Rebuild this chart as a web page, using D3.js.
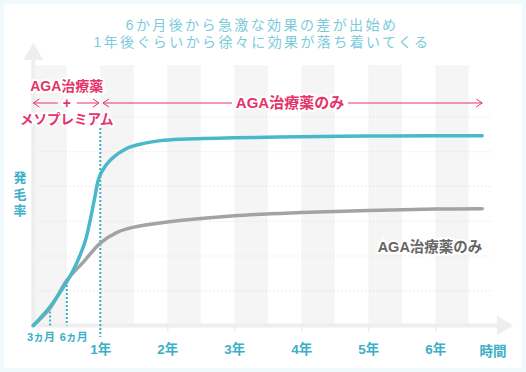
<!DOCTYPE html>
<html>
<head>
<meta charset="utf-8">
<script src="https://cdn.jsdelivr.net/npm/d3@7"></script>
<style>
  html, body { margin: 0; padding: 0; background: #f0fafc; }
  svg { display: block; font-family: "Liberation Sans", "Noto Sans CJK JP", sans-serif; }
</style>
</head>
<body>
<div id="chart"></div>
<script>
// data (x in years, y in grid units)
const titleLines = ["6か月後から急激な効果の差が出始め", "1年後ぐらいから徐々に効果が落ち着いてくる"];
const years = [1, 2, 3, 4, 5, 6];
const yearLabels = ["1年", "2年", "3年", "4年", "5年", "6年"];
const monthTicks = [0.25, 0.5];
const monthTickTops = [0.52, 1.28];
const monthLabels = ["3ヵ月", "6ヵ月"];
const gridValues = [1, 2, 3, 4, 5, 6];
const stripeStarts = [0, 1, 2, 3, 4, 5, 6];
const comboT = [0, 0.25, 0.5, 0.6, 0.7, 0.78, 0.85, 0.92, 0.97, 1.02, 1.15, 1.4, 1.65, 1.9, 2.2, 3, 4, 5, 6, 6.7];
const comboSeries = [0, 0.54, 1.26, 1.6, 2.03, 2.46, 3.04, 3.71, 4.19, 4.42, 4.76, 5.10, 5.24, 5.32, 5.36, 5.40, 5.43, 5.45, 5.46, 5.46];
const agaT = [0, 0.25, 0.5, 0.75, 1, 1.25, 1.5, 2, 3, 4, 5, 6, 6.7];
const agaSeries = [0, 0.5, 1.3, 1.83, 2.37, 2.68, 2.83, 2.98, 3.16, 3.25, 3.31, 3.35, 3.36];
const comboPeriod = [0, 1];
const soloPeriod = [1, 6.7];

const w = 526, h = 372;
const blue = "#4bb8ca", gray = "#a3a3a3", pink = "#e5336b", teal = "#3aafc7";

const svg = d3.select("#chart").append("svg")
    .attr("width", w)
    .attr("height", h);

// frame
svg.append("rect")
    .attr("x", 4).attr("y", 4)
    .attr("width", w - 8).attr("height", h - 8)
    .attr("rx", 3)
    .attr("fill", "#fff");

const x = d3.scaleLinear().domain([0, 7]).range([33.3, 502.3]);
const y = d3.scaleLinear().domain([0, 6]).range([325.5, 117]);

// stripes
svg.append("g").selectAll("rect")
    .data(stripeStarts)
    .join("rect")
    .attr("x", d => x(d))
    .attr("y", 65)
    .attr("width", d => x(d + 0.5) - x(d))
    .attr("height", y(0) - 65)
    .attr("fill", "#f5f5f5");

// dotted grid
svg.append("g").selectAll("line")
    .data(gridValues)
    .join("line")
    .attr("x1", x(0)).attr("x2", 493)
    .attr("y1", d => y(d)).attr("y2", d => y(d))
    .attr("stroke", "#d9d9d9")
    .attr("stroke-width", 1)
    .attr("stroke-dasharray", "1,3");

// axes (light grey with arrow heads)
svg.append("line")
    .attr("x1", x(0)).attr("x2", x(0))
    .attr("y1", 58).attr("y2", y(0) + 2)
    .attr("stroke", "#eeeeee").attr("stroke-width", 4);
svg.append("path")
    .attr("d", `M${x(0)},43L${x(0) + 10},60L${x(0) - 10},60Z`)
    .attr("fill", "#eeeeee");

const xAxis = d3.axisBottom(x)
    .tickValues(years)
    .tickSize(6)
    .tickPadding(13)
    .tickFormat((d, i) => yearLabels[i]);
const gx = svg.append("g")
    .attr("transform", "translate(0," + y(0) + ")")
    .call(xAxis);
gx.select(".domain").remove();
gx.selectAll(".tick line").attr("stroke", "#e2e2e2");
gx.selectAll(".tick text")
    .attr("fill", teal)
    .attr("font-size", 13.5)
    .attr("font-weight", "bold")
    .attr("font-family", "Liberation Sans, Noto Sans CJK JP");

svg.append("line")
    .attr("x1", x(0) - 2).attr("x2", 498)
    .attr("y1", y(0)).attr("y2", y(0))
    .attr("stroke", "#eeeeee").attr("stroke-width", 4);
svg.append("path")
    .attr("d", `M513,${y(0)}L497,${y(0) - 10}L497,${y(0) + 10}Z`)
    .attr("fill", "#eeeeee");

svg.append("text")
    .attr("x", 493).attr("y", y(0) + 30)
    .attr("text-anchor", "middle")
    .attr("fill", teal)
    .attr("font-size", 13.5)
    .attr("font-weight", "bold")
    .text("時間");

// vertical label
svg.append("g").selectAll("text")
    .data(["発", "毛", "率"])
    .join("text")
    .attr("x", 20)
    .attr("y", (d, i) => 182 + i * 16.5)
    .attr("text-anchor", "middle")
    .attr("fill", teal)
    .attr("font-size", 13)
    .attr("font-weight", "bold")
    .text(d => d);

// dotted markers at 3 / 6 months and 1 year
svg.append("g").selectAll("line")
    .data(monthTicks)
    .join("line")
    .attr("x1", d => x(d)).attr("x2", d => x(d))
    .attr("y1", (d, i) => y(monthTickTops[i]))
    .attr("y2", y(0))
    .attr("stroke", teal)
    .attr("stroke-width", 2)
    .attr("stroke-dasharray", "2,2");
svg.append("line")
    .attr("x1", x(1)).attr("x2", x(1))
    .attr("y1", 128).attr("y2", 337)
    .attr("stroke", teal)
    .attr("stroke-width", 2)
    .attr("stroke-dasharray", "2,2");

svg.append("g").selectAll("text")
    .data(monthTicks)
    .join("text")
    .attr("x", (d, i) => x(d) + (i === 0 ? -9 : 7))
    .attr("y", y(0) + 15)
    .attr("text-anchor", "middle")
    .attr("fill", teal)
    .attr("font-size", 11)
    .attr("font-weight", "bold")
    .text((d, i) => monthLabels[i]);

// curves
const curveLine = tt => d3.line()
    .x((d, i) => x(tt[i]))
    .y(d => y(d))
    .curve(d3.curveCatmullRom.alpha(0.5));

svg.append("path")
    .datum(agaSeries)
    .attr("fill", "none")
    .attr("stroke", gray)
    .attr("stroke-width", 3.5)
    .attr("stroke-linecap", "round")
    .attr("d", curveLine(agaT));
svg.append("path")
    .datum(comboSeries)
    .attr("fill", "none")
    .attr("stroke", blue)
    .attr("stroke-width", 3.5)
    .attr("stroke-linecap", "round")
    .attr("d", curveLine(comboT));

// gray series label
svg.append("text")
    .attr("x", 430).attr("y", 252)
    .attr("text-anchor", "middle")
    .attr("fill", "#666")
    .attr("stroke", "#fff").attr("stroke-width", 4)
    .attr("paint-order", "stroke")
    .attr("font-size", 14.5)
    .attr("font-weight", "bold")
    .text("AGA治療薬のみ");

// title
svg.append("g").selectAll("text")
    .data(titleLines)
    .join("text")
    .attr("x", 262)
    .attr("y", (d, i) => 30 + i * 17)
    .attr("text-anchor", "middle")
    .attr("fill", "#7ccbdb")
    .attr("font-size", 14)
    .attr("letter-spacing", 2.4)
    .text(d => d);

// period brackets (pink)
const arrowY = 103;
function chevron(px, dir) {
  return `M${px + dir * 6},${arrowY - 4}L${px},${arrowY}L${px + dir * 6},${arrowY + 4}`;
}
function bracket(a, b, gapL, gapR) {
  const g = svg.append("g")
      .attr("stroke", pink).attr("stroke-width", 1).attr("fill", "none");
  g.append("line").attr("x1", x(a)).attr("x2", gapL).attr("y1", arrowY).attr("y2", arrowY);
  g.append("line").attr("x1", gapR).attr("x2", x(b)).attr("y1", arrowY).attr("y2", arrowY);
  g.append("path").attr("d", chevron(x(a), 1));
  g.append("path").attr("d", chevron(x(b), -1));
}
bracket(comboPeriod[0], comboPeriod[1] - 0.02, x(0.5) - 9, x(0.5) + 10);
bracket(soloPeriod[0] + 0.04, soloPeriod[1], 232, 348);

const pinkText = (tx, ty, s, size) => svg.append("text")
    .attr("x", tx).attr("y", ty)
    .attr("text-anchor", "middle")
    .attr("fill", pink)
    .attr("stroke", "#fff").attr("stroke-width", 4)
    .attr("paint-order", "stroke")
    .attr("font-size", size)
    .attr("font-weight", "bold")
    .text(s);

pinkText(x(0.5), 91, "AGA治療薬", 14);
pinkText(x(0.5), arrowY + 5, "+", 14);
pinkText(x(0.5), 124, "メソプレミアム", 13.5);
pinkText(290, arrowY + 5, "AGA治療薬のみ", 15);
</script>
</body>
</html>
